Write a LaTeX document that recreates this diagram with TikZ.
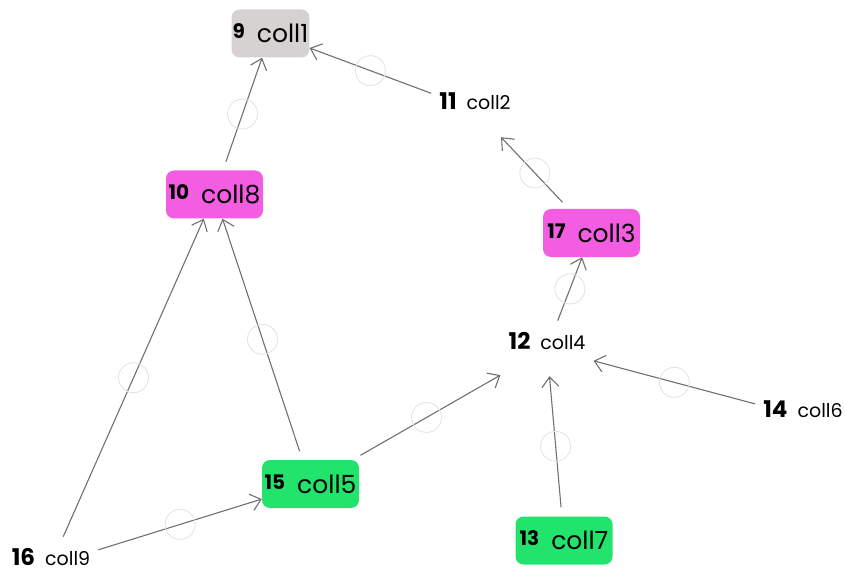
\documentclass[tikz,border=0pt]{standalone}
\usepackage{fontspec}
\setmainfont{Poppins}
\usetikzlibrary{arrows.meta}

\definecolor{boxgray}{RGB}{214,210,210}
\definecolor{boxpink}{RGB}{243,93,225}
\definecolor{boxgreen}{RGB}{34,228,109}
\definecolor{edgegray}{RGB}{112,112,112}
\definecolor{ringgray}{RGB}{228,228,228}

% number + name inside a coloured box, and without a box
\newcommand{\boxlabel}[2]{\raisebox{4pt}{\fontsize{20}{20}\selectfont\bfseries #1}\hspace{12pt}\fontsize{25}{25}\selectfont #2}
\newcommand{\plainlabel}[2]{{\fontsize{23}{23}\selectfont\bfseries #1}\hspace{10pt}\fontsize{19}{19}\selectfont #2}

\tikzset{
    box/.style={rounded corners=8pt, inner xsep=1pt, inner ysep=0pt, minimum height=48pt, minimum width=97pt},
    plain/.style={inner xsep=8pt, inner ysep=11pt, text depth=16pt, anchor=base},
    edge/.style={draw=edgegray, line width=1.1pt, -{Straight Barb[length=10pt,width=17pt,line width=1.1pt]}},
    ring/.style={circle, draw=ringgray, line width=0.9pt, minimum size=30pt, inner sep=0pt}
}

\begin{document}
\begin{tikzpicture}[x=1pt, y=-1pt]
    \useasboundingbox (0, 0) rectangle (845, 569);
    \node[box, fill=boxgray, minimum width=75pt] (n9) at (270.5, 33.5) {\boxlabel{9}{coll1}};
    \node[box, fill=boxpink] (n10) at (214.5, 194.5) {\boxlabel{10}{coll8}};
    \node[box, fill=boxpink] (n17) at (591.5, 233) {\boxlabel{17}{coll3}};
    \node[box, fill=boxgreen] (n15) at (310.5, 484) {\boxlabel{15}{coll5}};
    \node[box, fill=boxgreen] (n13) at (564, 540.5) {\boxlabel{13}{coll7}};
    \node[plain] (n11) at (475, 110) {\plainlabel{11}{coll2}};
    \node[plain] (n12) at (547, 349) {\plainlabel{12}{coll4}};
    \node[plain] (n14) at (803, 417) {\plainlabel{14}{coll6}};
    \node[plain] (n16) at (51, 565) {\plainlabel{16}{coll9}};
    % from / to / gap at the start
    \foreach \a/\b/\g in {n11/n9/0, n10/n9/9, n17/n11/9, n12/n17/0, n14/n12/0,
                          n13/n12/9, n15/n12/9, n15/n10/9, n16/n10/0, n16/n15/0} {
        \draw[edge, shorten <=\g pt] (\a) -- (\b) node[ring, midway] (r\a\b) {};
    };
\end{tikzpicture}
\end{document}
